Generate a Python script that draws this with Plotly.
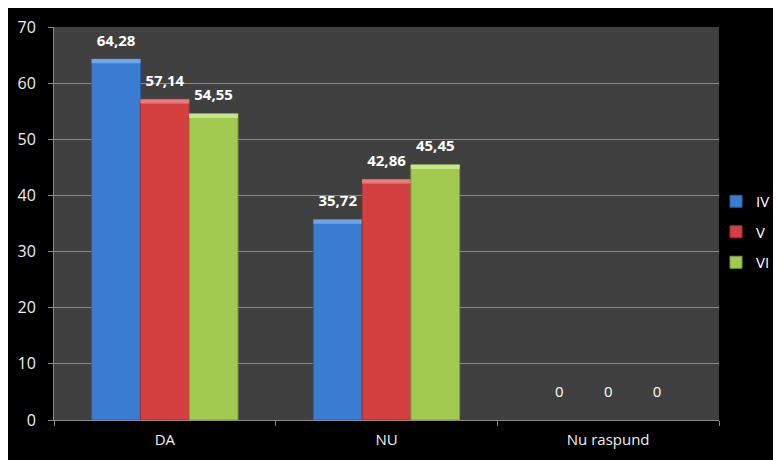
import plotly.graph_objects as go

categories = ["DA", "NU", "Nu raspund"]
series_names = ["IV", "V", "VI"]
values_iv = [64.28, 35.72, 0]
values_v = [57.14, 42.86, 0]
values_vi = [54.55, 45.45, 0]
y_ticks = [0, 10, 20, 30, 40, 50, 60, 70]

series_values = [values_iv, values_v, values_vi]
colors = ["#3b7cd3", "#d43f3f", "#a2ca50"]
top_colors = ["#6ea6ee", "#f07a7a", "#c8e584"]
line_colors = ["#2c5fa3", "#a02e2e", "#7a9c3c"]

def fmt(v):
    return ("%.2f" % v).replace(".", ",") if v != 0 else "0"

def label(v):
    return "<b>%s</b>" % fmt(v) if v != 0 else fmt(v)

fig = go.Figure()
for i, (name, vals) in enumerate(zip(series_names, series_values)):
    fig.add_trace(go.Bar(
        x=categories, y=vals, name=name, offsetgroup=name, legendgroup=name,
        marker=dict(color=colors[i],
                    line=dict(color=line_colors[i], width=[1 if v else 0 for v in vals])),
        hoverinfo="skip",
    ))
    # top bevel highlight
    hl = [min(v, 0.75) for v in vals]
    fig.add_trace(go.Bar(
        x=categories, y=hl, base=[v - h for v, h in zip(vals, hl)],
        offsetgroup=name, legendgroup=name, showlegend=False,
        marker=dict(color=top_colors[i], line=dict(width=0)),
        hoverinfo="skip",
    ))
    # value labels
    fig.add_trace(go.Scatter(
        x=categories, y=vals, offsetgroup=name, mode="markers+text",
        marker=dict(size=[14 if v else 30 for v in vals], opacity=0),
        text=[label(v) for v in vals], textposition="top center",
        textfont=dict(color="white", size=15, family="Open Sans"),
        cliponaxis=False, showlegend=False, hoverinfo="skip",
    ))

# the page shows the figure with an 8px body margin; plot area on page: x 54-719, y 27-420
W, H = 800, 460
L, T = 46, 19
R = W - 711
B = H - 412
pw, ph = W - L - R, H - T - B
fig.update_layout(
    width=W, height=H,
    barmode="group", bargap=0.34, bargroupgap=0,
    scattermode="group", scattergap=0.34,
    paper_bgcolor="black", plot_bgcolor="#404040",
    margin=dict(l=L, r=R, t=T, b=B, autoexpand=False),
    font=dict(family="Open Sans", color="#f0f0f0", size=15),
    showlegend=True,
    legend=dict(x=(716 - 8 - L) / pw, y=(412 - 177) / ph, xanchor="left", yanchor="top",
                font=dict(size=15, color="white"), tracegroupgap=8,
                itemwidth=30, bgcolor="rgba(0,0,0,0)"),
    xaxis=dict(showline=True, linecolor="#8a8a8a", linewidth=1, ticks="outside",
               tickson="boundaries", ticklen=5, tickcolor="#8a8a8a",
               showgrid=False, ticklabelstandoff=6,
               tickfont=dict(size=15, color="#f0f0f0")),
    yaxis=dict(range=[0, 70], tickvals=y_ticks, showline=True, linecolor="#8a8a8a",
               ticks="outside", ticklen=5, tickcolor="#8a8a8a",
               gridcolor="#8a8a8a", gridwidth=1, zeroline=False,
               ticklabelstandoff=9,
               tickfont=dict(size=16, color="#f0f0f0")),
)
fig.write_html("out.html")
